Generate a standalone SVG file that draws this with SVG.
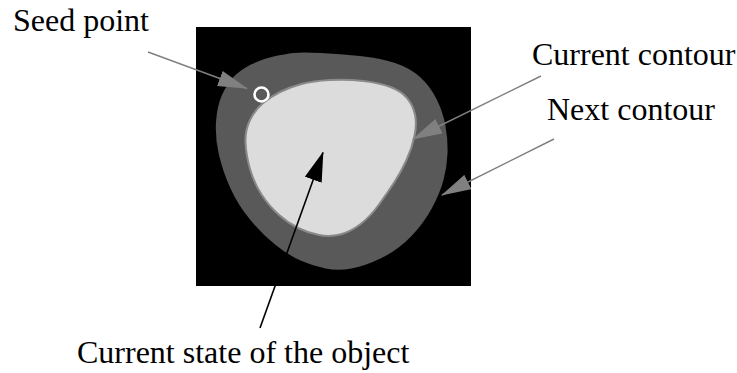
<svg xmlns="http://www.w3.org/2000/svg" width="737" height="373" viewBox="0 0 737 373">
  <style>
    .lbl { font-family: "Liberation Serif", "Times New Roman", serif; font-size: 32px; fill: #000; }
    .gline { stroke: #808080; stroke-width: 1.5; fill: none; }
    .bline { stroke: #000; stroke-width: 1.6; fill: none; }
  </style>
  <defs>
    <marker id="ag" viewBox="0 0 30 16" markerWidth="30" markerHeight="16" refX="29" refY="8" orient="auto" markerUnits="userSpaceOnUse">
      <path d="M0,0 L30,8 L0,16 Z" fill="#808080"/>
    </marker>
    <marker id="ab" viewBox="0 0 30 18" markerWidth="30" markerHeight="18" refX="29" refY="9" orient="auto" markerUnits="userSpaceOnUse">
      <path d="M0,0 L30,9 L0,18 Z" fill="#000"/>
    </marker>
  </defs>

  <g id="image">
    <rect x="196" y="27" width="275" height="259" fill="#000"/>
    <path id="next-contour" fill="#595959" d="M222,95 Q227,84 233.5,77 Q240,70 251,64.5 Q262,59 273.5,56.5 Q285,54 293.5,53 Q302,52 321,53 Q340,54 360,56 Q380,58 395,63 Q410,68 420,77 Q430,86 436.5,99 Q443,112 445.5,126 Q448,140 447.5,153.5 Q447,167 443.5,180 Q440,193 432,208 Q424,223 411,236.5 Q398,250 381.5,258 Q365,266 351.5,268.5 Q338,271 325.5,268.5 Q313,266 300.5,260.5 Q288,255 275,244.5 Q262,234 250,219.5 Q238,205 230.5,188.5 Q223,172 219,155 Q215,138 216,122 Q217,106 222,95 Z"/>
    <path id="current-contour" fill="#dcdcdc" stroke="#8a8a8a" stroke-width="2" d="M250,120 Q255,110 262.5,103.5 Q270,97 280,92 Q290,87 301.5,84 Q313,81 330,80 Q347,79 363.5,81 Q380,83 390.5,87 Q401,91 407,98 Q413,105 415,114.5 Q417,124 414.5,136 Q412,148 406.5,160 Q401,172 394.5,182 Q388,192 379,204.5 Q370,217 360,224.5 Q350,232 340,234.5 Q330,237 319,235 Q308,233 298,228 Q288,223 278.5,214.5 Q269,206 261.5,194.5 Q254,183 250,169 Q246,155 245.5,142.5 Q245,130 250,120 Z"/>
    <circle id="seed" cx="261.5" cy="94.5" r="7" fill="none" stroke="#fff" stroke-width="2.6"/>
  </g>

  <g id="label-seed"><text class="lbl" x="13" y="31">Seed point</text></g>
  <g id="label-current-contour"><text class="lbl" x="532" y="65">Current contour</text></g>
  <g id="label-next-contour"><text class="lbl" x="547" y="120">Next contour</text></g>
  <g id="label-state"><text class="lbl" x="77" y="363">Current state of the object</text></g>

  <g id="connectors">
    <line class="gline" x1="148" y1="52" x2="247" y2="88.5" marker-end="url(#ag)"/>
    <line class="gline" x1="541" y1="76" x2="413" y2="139" marker-end="url(#ag)"/>
    <line class="gline" x1="554" y1="139" x2="442" y2="195" marker-end="url(#ag)"/>
    <line class="bline" x1="260" y1="328" x2="323" y2="152.5" marker-end="url(#ab)"/>
  </g>
</svg>
